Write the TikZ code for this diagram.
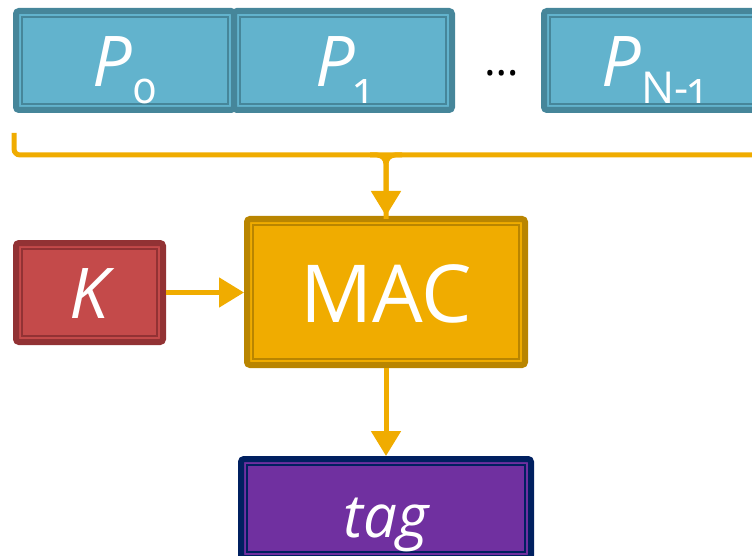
\documentclass[tikz,border=0pt]{standalone}
\usepackage{fontspec}
\setmainfont{Open Sans}
\newfontfamily\subfont{Open Sans}[Numbers=OldStyle]
\usepackage{xcolor}
\usetikzlibrary{arrows.meta, positioning}

\definecolor{pblue}{HTML}{62B3CD}
\definecolor{pblueline}{HTML}{46869A}
\definecolor{kred}{HTML}{C44A4A}
\definecolor{kredline}{HTML}{923234}
\definecolor{macfill}{HTML}{F0AC00}
\definecolor{macline}{HTML}{B98500}
\definecolor{tagfill}{HTML}{7030A0}
\definecolor{tagline}{HTML}{002060}

\newcommand{\blkP}[1]{\fontsize{70}{70}\selectfont\itshape P\/\upshape\raisebox{-17pt}{\subfont\fontsize{44}{44}\selectfont #1}}

\tikzset{
    blk/.style 2 args={fill=#1, draw=#2, line width=6pt, rounded corners=3pt,
        outer sep=0pt, inner sep=0pt, text=white, text depth=0pt,
        path picture={\draw[#2, line width=1.5pt, sharp corners]
            ([shift={(6pt,-6pt)}]path picture bounding box.north west) rectangle
            ([shift={(-6pt,6pt)}]path picture bounding box.south east);}},
    conn/.style={draw=macfill, line width=5pt},
    tip/.style={-{Triangle[length=25pt, width=29pt]}},
}

\begin{document}
\begin{tikzpicture}[x=1pt, y=-1pt]
    \clip (0,0) rectangle (752,556);

    % 明文分组
    \node[blk={pblue}{pblueline}, minimum width=218pt, minimum height=99pt, text height=53pt] (p0) at (125,60.5) {\blkP{0}};
    \node[blk={pblue}{pblueline}, minimum width=218pt, minimum height=99pt, text height=53pt, right=0pt of p0] (p1) {\blkP{1}};
    \node (dots) at (502,73) {\fontsize{44}{44}\selectfont\ldots};
    \node[blk={pblue}{pblueline}, minimum width=218pt, minimum height=99pt, text height=53pt] (pn) at (653,60.5) {\blkP{N-1}};

    % 密钥与 MAC
    \node[blk={kred}{kredline}, minimum width=147pt, minimum height=99pt, text height=51pt] (k) at (89.5,292.5) {\fontsize{70}{70}\selectfont\itshape K};
    \node[blk={macfill}{macline}, minimum width=278pt, minimum height=146pt, text height=60pt] (mac) at (386,292) {\fontsize{80}{80}\selectfont MAC};
    \node[blk={tagfill}{tagline}, minimum width=290pt, minimum height=99pt, text height=57pt] (tag) at (386,508.5) {\fontsize{60}{60}\selectfont\itshape tag};

    % 括号
    \coordinate (brL) at (14,133);
    \coordinate (brR) at (770,155);
    \coordinate (brJ1) at (370,155);
    \coordinate (brJ2) at (402,155);
    \draw[conn, rounded corners=6pt] (brL) |- (brR);
    \draw[conn, rounded corners=9pt] (brJ2) -| (mac.north);
    \draw[conn, tip, rounded corners=9pt, shorten >=3pt] (brJ1) -| (mac.north);

    % 箭头
    \draw[conn, tip, shorten <=3pt, shorten >=3pt] (k.east) -- (k.east -| mac.west);
    \draw[conn, tip, shorten <=3pt, shorten >=3pt] (mac) -- (tag);
\end{tikzpicture}
\end{document}
